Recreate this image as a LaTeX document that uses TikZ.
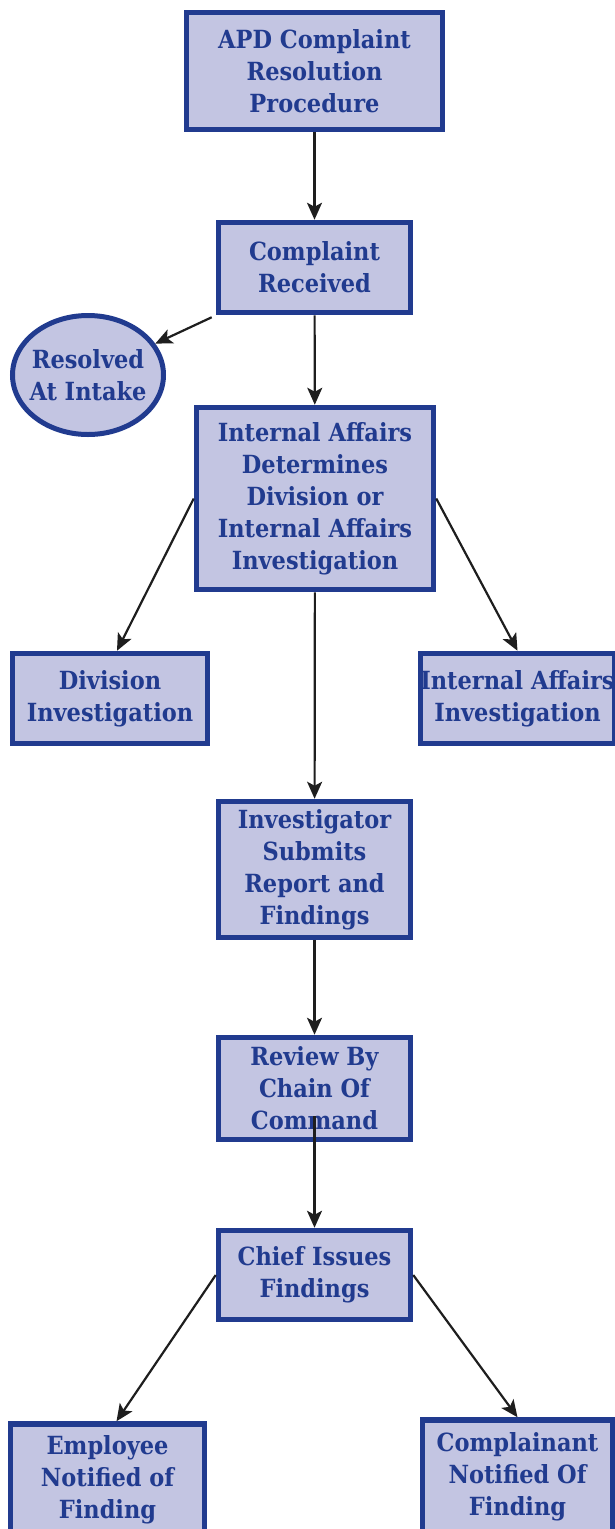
\documentclass[tikz,border=0pt]{standalone}
\usepackage{fontspec}
\setmainfont{DejaVu Serif Condensed}
\usetikzlibrary{arrows.meta,shapes.geometric}
\definecolor{boxfill}{RGB}{195,197,226}
\definecolor{boxline}{RGB}{33,59,143}
\definecolor{arrowink}{RGB}{30,30,30}
\begin{document}
\begin{tikzpicture}[
    x=1pt, y=-1pt,
    step box/.style={rectangle, draw=boxline, fill=boxfill, line width=5.5pt, align=center, inner sep=0pt,
        text=boxline, font=\fontsize{25}{32}\selectfont\bfseries},
    oval/.style={ellipse, draw=boxline, fill=boxfill, line width=5pt, align=center, inner xsep=-12pt, inner ysep=0pt,
        text=boxline, font=\fontsize{25}{32}\selectfont\bfseries},
    arr/.style={-{Stealth[length=17pt,width=15pt,inset=4pt]}, line width=2.2pt, arrowink}
]
\useasboundingbox (0,0) rectangle (615,1529);

% Main column
\node[step box, minimum width=256pt, minimum height=117pt] (apd) at (314.5,71) {APD Complaint\\Resolution\\Procedure};
\node[step box, minimum width=192pt, minimum height=90pt] (rec) at (314.5,267.5) {Complaint\\Received};
\node[oval, minimum width=151pt, minimum height=119pt] (intake) at (88,375) {Resolved\\At Intake};
\node[step box, minimum width=237pt, minimum height=182pt] (det) at (315,498.5) {Internal Affairs\\Determines\\Division or\\Internal Affairs\\Investigation};

% Investigation branches
\node[step box, minimum width=195pt, minimum height=90pt] (div) at (110,698.5) {Division\\Investigation};
\node[step box, minimum width=191pt, minimum height=90pt] (iai) at (517.5,698.5) {Internal Affairs\\Investigation};

\node[step box, minimum width=192pt, minimum height=136pt] (report) at (314.5,869.5) {Investigator\\Submits\\Report and\\Findings};
\node[step box, minimum width=192pt, minimum height=102pt] (review) at (314.5,1088.5) {Review By\\Chain Of\\Command};
\node[step box, minimum width=192pt, minimum height=89pt] (chief) at (314.5,1275) {Chief Issues\\Findings};

% Notification boxes (cut by the page edge)
\node[step box, minimum width=194pt, minimum height=112pt] (emp) at (107.5,1480) {Employee\\Notified of\\Finding};
\node[step box, minimum width=190pt, minimum height=114pt] (comp) at (517.5,1477) {Complainant\\Notified Of\\Finding};

% Connectors
\draw[arr] (apd) -- (rec);
\draw[arr] ([xshift=-4pt,yshift=-2pt]rec.south west) -- (intake);
\draw[arr] (rec) -- (det);
\draw[arr] (det.west) -- ([xshift=7pt]div.north);
\draw[arr] (det.east) -- (iai.north);
\draw[arr] (det) -- (report);
\draw[arr] (report) -- (review);
\draw[arr] ([yshift=26pt]review.south) -- (chief);
\draw[arr] (chief.west) -- ([xshift=9pt]emp.north);
\draw[arr] (chief.east) -- (comp.north);
\end{tikzpicture}
\end{document}
